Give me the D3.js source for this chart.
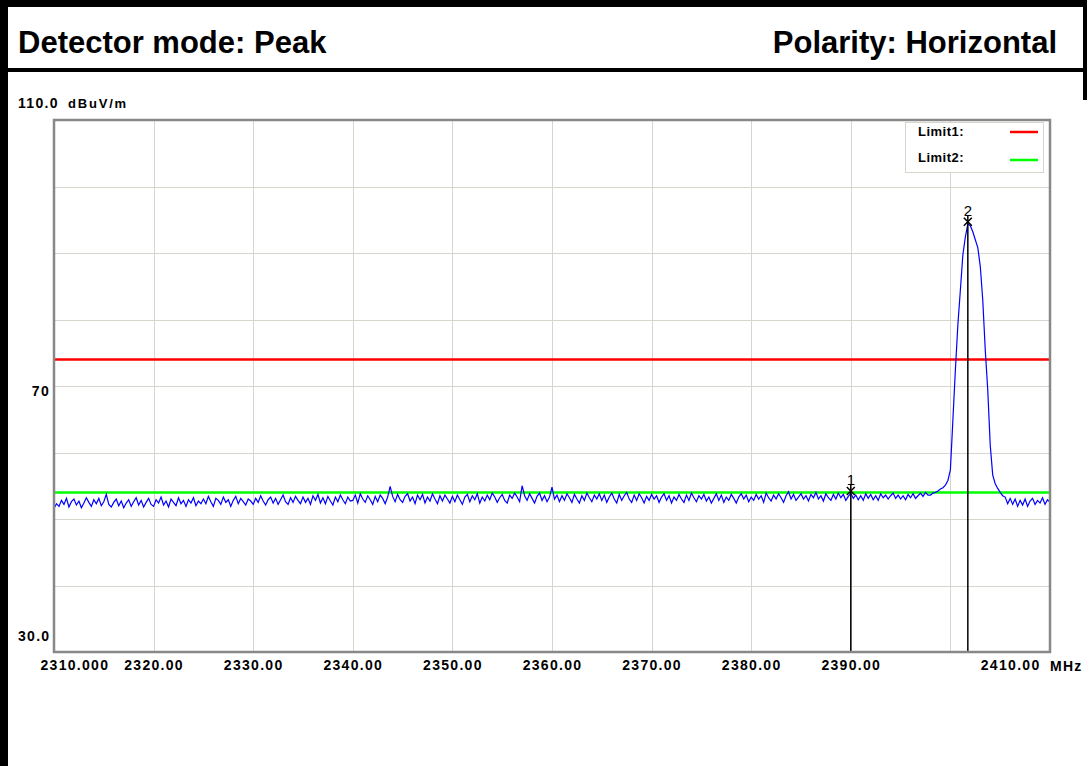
<!DOCTYPE html>
<html>
<head>
<meta charset="utf-8">
<script src="https://cdn.jsdelivr.net/npm/d3@7/dist/d3.min.js"></script>
<style>
  body { margin: 0; background: #fff; }
  text { font-family: Arial, "Liberation Sans", sans-serif; }
</style>
</head>
<body>
<div id="chart"></div>
<script>
// sweep: 2310 MHz .. 2410 MHz, one reading every 0.25 MHz
var freqStart = 2310;
var freqStep = 0.25;

// trace levels in dBuV/m
var level = [
  51.6, 52.3, 51.9, 52.8, 52.2, 53.1, 51.8, 52.6, 53.0, 52.1, 52.7, 51.7, 52.4, 53.2, 52.5, 51.9, 52.9, 52.3, 53.1, 52.0,
  52.6, 53.7, 52.2, 51.8, 52.5, 53.0, 52.0, 52.7, 51.7, 52.4, 52.9, 51.9, 52.6, 53.2, 52.1, 52.8, 51.8, 52.5, 53.1, 52.2,
  51.9, 52.9, 52.4, 53.3, 52.1, 52.7, 51.8, 53.0, 52.5, 52.0, 53.2, 52.3, 52.8, 51.9, 52.9, 52.4, 53.2, 52.0, 52.7, 52.3,
  53.0, 52.3, 53.4, 52.6, 51.9, 53.1, 52.8, 52.2, 53.3, 52.5, 52.9, 51.9, 52.8, 53.4, 52.3, 53.1, 52.6, 52.1, 53.0, 52.7,
  52.2, 53.1, 52.5, 53.5, 52.7, 52.1, 52.9, 53.3, 52.4, 53.1, 52.2, 52.9, 53.6, 52.6, 52.2, 53.2, 52.5, 53.4, 52.8, 52.3,
  53.3, 52.5, 53.1, 52.2, 53.5, 52.8, 53.7, 52.4, 53.2, 52.3, 53.4, 52.7, 52.1, 53.3, 52.6, 53.6, 52.9, 52.3, 53.3, 52.7,
  52.8, 53.6, 52.4, 53.8, 53.0, 52.5, 53.5, 52.9, 52.2, 53.4, 52.6, 53.6, 53.1, 52.3, 53.3, 54.9, 53.4, 52.6, 53.7, 52.9,
  52.5, 53.4, 53.8, 52.7, 53.3, 52.3, 53.6, 52.9, 53.7, 52.4, 53.3, 52.7, 53.8, 53.0, 52.3, 53.5, 52.7, 53.6, 53.0, 52.4,
  53.4, 52.6, 53.6, 52.9, 52.2, 53.3, 53.7, 52.6, 53.5, 52.9, 53.8, 52.4, 53.3, 52.7, 53.6, 52.9, 53.9, 53.3, 52.5, 53.2,
  53.7, 52.8, 52.4, 53.6, 53.1, 53.9, 53.3, 52.6, 55.0, 53.5, 52.8, 53.8, 53.1, 52.4, 53.4, 53.9, 52.8, 53.5, 52.6, 53.3,
  54.8, 53.0, 53.6, 52.6, 53.5, 52.8, 53.8, 53.2, 52.5, 53.7, 53.0, 52.4, 53.5, 52.8, 53.9, 53.2, 52.6, 53.6, 53.0, 53.8,
  52.8, 53.6, 52.5, 53.3, 53.9, 53.0, 52.4, 53.7, 52.8, 53.5, 54.0, 53.0, 52.5, 53.6, 52.8, 53.8, 53.2, 52.4, 53.4, 52.8,
  53.7, 53.0, 53.5, 52.5, 53.3, 53.8, 52.8, 53.5, 52.4, 53.3, 52.8, 53.7, 53.0, 52.5, 53.6, 52.8, 53.9, 53.2, 52.6, 53.5,
  53.0, 53.7, 52.7, 53.3, 52.4, 53.1, 53.8, 52.8, 53.6, 52.5, 53.3, 52.8, 53.7, 53.1, 52.4, 53.3, 53.8, 53.0, 53.6, 52.6,
  53.3, 52.8, 53.7, 53.0, 53.5, 52.5, 53.9, 53.2, 52.7, 53.6, 53.0, 53.8, 53.2, 52.5, 53.5, 54.1, 53.0, 53.7, 52.8, 53.3,
  53.8, 53.0, 53.5, 52.7, 53.7, 53.2, 54.0, 53.0, 53.5, 52.7, 53.8, 53.2, 52.8, 53.7, 53.0, 53.9, 53.2, 53.7, 52.8, 53.4,
  53.9, 53.1, 53.6, 52.9, 53.5, 52.8, 53.8, 53.1, 53.7, 52.9, 53.5, 52.8, 53.8, 53.2, 53.6, 53.0, 53.5, 53.9, 53.1, 53.6,
  53.0, 53.5, 52.9, 53.7, 53.2, 53.8, 53.1, 53.5, 53.9, 53.4, 54.0, 53.6,
  // carrier around 2402 MHz
  53.6, 53.9, 54.0, 54.2, 54.5, 54.7, 55.1, 55.8, 57.4, 64.9, 72.4, 79.2, 84.4, 89.7, 92.4, 94.4,
  94.1, 93.2, 92.0, 90.8, 88.0, 82.9, 75.4, 69.4, 61.1, 56.6, 55.3, 54.6, 54.0, 53.5,
  53.3, 52.3, 53.1, 52.2, 53.0, 51.9, 52.8, 52.1, 53.0, 51.9, 52.7, 53.1, 52.2, 52.8, 52.4, 53.2, 52.2, 52.9, 52.5
];

// limit lines
var limitNames = ["Limit1:", "Limit2:"];
var limitValues = [74, 54];
var limitColors = ["#ff0000", "#00ff00"];

// markers (frequency in MHz)
var markerNames = ["1", "2"];
var markerFreqs = [2390, 2401.75];

// axis labels
var xTicks = [2310, 2320, 2330, 2340, 2350, 2360, 2370, 2380, 2390, 2400, 2410];
var xTickLabels = ["2310.000", "2320.00", "2330.00", "2340.00", "2350.00", "2360.00", "2370.00", "2380.00", "2390.00", "", "2410.00"];
var yGrid = [40, 50, 60, 70, 80, 90, 100];
var yLabels = [110, 70, 30];
var yLabelText = ["110.0", "70", "30.0"];

var W = 1087, H = 766;
var svg = d3.select('#chart').append('svg')
    .attr('width', W)
    .attr('height', H);

svg.append('rect').attr('width', W).attr('height', H).attr('fill', '#fff');

// page frame
svg.append('rect').attr('x', 0).attr('y', 0).attr('width', W).attr('height', 7).attr('fill', '#000');
svg.append('rect').attr('x', 0).attr('y', 0).attr('width', 8).attr('height', H).attr('fill', '#000');
svg.append('rect').attr('x', 0).attr('y', 68).attr('width', W).attr('height', 4).attr('fill', '#000');
svg.append('rect').attr('x', 1083).attr('y', 0).attr('width', 4).attr('height', 100).attr('fill', '#000');

svg.append('text')
    .attr('x', 18).attr('y', 53)
    .attr('font-size', 31).attr('font-weight', 'bold')
    .text('Detector mode: Peak');
svg.append('text')
    .attr('x', 1057).attr('y', 53)
    .attr('text-anchor', 'end')
    .attr('font-size', 31).attr('font-weight', 'bold')
    .text('Polarity: Horizontal');

var x = d3.scaleLinear().domain([2310, 2410]).range([54, 1050]);
var y = d3.scaleLinear().domain([30, 110]).range([652, 120]);

// grid
var grid = svg.append('g').attr('stroke', '#d8d5cc').attr('stroke-width', 1);
grid.selectAll('line.v')
    .data(xTicks.slice(1, -1))
    .enter().append('line')
    .attr('class', 'v')
    .attr('x1', function(d){ return Math.round(x(d)) + 0.5; })
    .attr('x2', function(d){ return Math.round(x(d)) + 0.5; })
    .attr('y1', y(110)).attr('y2', y(30));
grid.selectAll('line.h')
    .data(yGrid)
    .enter().append('line')
    .attr('class', 'h')
    .attr('y1', function(d){ return Math.round(y(d)) + 0.5; })
    .attr('y2', function(d){ return Math.round(y(d)) + 0.5; })
    .attr('x1', x(2310)).attr('x2', x(2410));

// limit lines
svg.selectAll('line.limit')
    .data(limitValues)
    .enter().append('line')
    .attr('class', 'limit')
    .attr('x1', x(2310)).attr('x2', x(2410))
    .attr('y1', function(d){ return y(d); })
    .attr('y2', function(d){ return y(d); })
    .attr('stroke', function(d, i){ return limitColors[i]; })
    .attr('stroke-width', 2.5);

// trace
var line = d3.line()
    .x(function(d, i){ return x(freqStart + i * freqStep); })
    .y(function(d){ return y(d); });
svg.append('path')
    .datum(level)
    .attr('d', line)
    .attr('fill', 'none')
    .attr('stroke', '#0000ff')
    .attr('stroke-width', 1.2);

// markers
function levelAt(f){
    return level[Math.round((f - freqStart) / freqStep)];
}
var markers = svg.selectAll('g.marker')
    .data(markerFreqs)
    .enter().append('g')
    .attr('class', 'marker');
markers.append('line')
    .attr('x1', function(d){ return x(d); })
    .attr('x2', function(d){ return x(d); })
    .attr('y1', function(d){ return y(levelAt(d)) - 8; })
    .attr('y2', y(30))
    .attr('stroke', '#000')
    .attr('stroke-width', 1.5);
markers.append('path')
    .attr('d', function(d){
        var cx = x(d), cy = y(levelAt(d)) - 2;
        return 'M' + (cx - 4) + ',' + (cy - 4) + 'L' + (cx + 4) + ',' + (cy + 4) +
               'M' + (cx + 4) + ',' + (cy - 4) + 'L' + (cx - 4) + ',' + (cy + 4);
    })
    .attr('stroke', '#000')
    .attr('stroke-width', 1.5);
markers.append('text')
    .attr('x', function(d){ return x(d); })
    .attr('y', function(d){ return y(levelAt(d)) - 8; })
    .attr('text-anchor', 'middle')
    .attr('font-size', 15)
    .text(function(d, i){ return markerNames[i]; });

// plot frame
svg.append('rect')
    .attr('x', x(2310)).attr('y', y(110))
    .attr('width', x(2410) - x(2310)).attr('height', y(30) - y(110))
    .attr('fill', 'none')
    .attr('stroke', '#888')
    .attr('stroke-width', 2.5);

// legend
var legend = svg.append('g');
legend.append('rect')
    .attr('x', 905.5).attr('y', 122.5)
    .attr('width', 138).attr('height', 50)
    .attr('fill', '#fff')
    .attr('stroke', '#d8d5cc');
legend.selectAll('text')
    .data(limitNames)
    .enter().append('text')
    .attr('x', 918)
    .attr('y', function(d, i){ return 136 + i * 26; })
    .attr('font-size', 13).attr('font-weight', 'bold')
    .attr('letter-spacing', 0.5)
    .text(function(d){ return d; });
legend.selectAll('line')
    .data(limitColors)
    .enter().append('line')
    .attr('x1', 1010).attr('x2', 1038)
    .attr('y1', function(d, i){ return 132 + i * 28; })
    .attr('y2', function(d, i){ return 132 + i * 28; })
    .attr('stroke', function(d){ return d; })
    .attr('stroke-width', 2.5);

// x axis
var xAxis = d3.axisBottom(x)
    .tickValues(xTicks)
    .tickFormat(function(d, i){ return xTickLabels[i]; })
    .tickSize(0)
    .tickPadding(8);
var gx = svg.append('g')
    .attr('transform', 'translate(0,' + y(30) + ')')
    .call(xAxis);
gx.select('.domain').remove();
gx.selectAll('text')
    .attr('font-family', 'Arial, "Liberation Sans", sans-serif')
    .attr('font-size', 14).attr('font-weight', 'bold')
    .attr('letter-spacing', 1.3)
    .attr('fill', '#000');
gx.selectAll('.tick').filter(function(d){ return d === 2310; })
    .select('text').attr('text-anchor', 'start').attr('dx', -14);
gx.selectAll('.tick').filter(function(d){ return d === 2410; })
    .select('text').attr('text-anchor', 'end').attr('dx', -10);
svg.append('text')
    .attr('x', 1050).attr('y', 671)
    .attr('font-size', 14).attr('font-weight', 'bold')
    .attr('letter-spacing', 1.3)
    .text('MHz');

// y labels
svg.selectAll('text.ylab')
    .data(yLabels)
    .enter().append('text')
    .attr('class', 'ylab')
    .attr('x', function(d){ return d === 70 ? 50 : 18; })
    .attr('y', function(d){ return d === 110 ? y(d) - 12 : (d === 30 ? y(d) - 11 : y(d) + 10); })
    .attr('text-anchor', function(d){ return d === 70 ? 'end' : 'start'; })
    .attr('font-size', 14).attr('font-weight', 'bold')
    .attr('letter-spacing', 1.3)
    .text(function(d, i){ return yLabelText[i]; });
svg.append('text')
    .attr('x', 68).attr('y', y(110) - 12)
    .attr('font-size', 13).attr('font-weight', 'bold')
    .attr('letter-spacing', 1.8)
    .text('dBuV/m');
</script>
</body>
</html>
